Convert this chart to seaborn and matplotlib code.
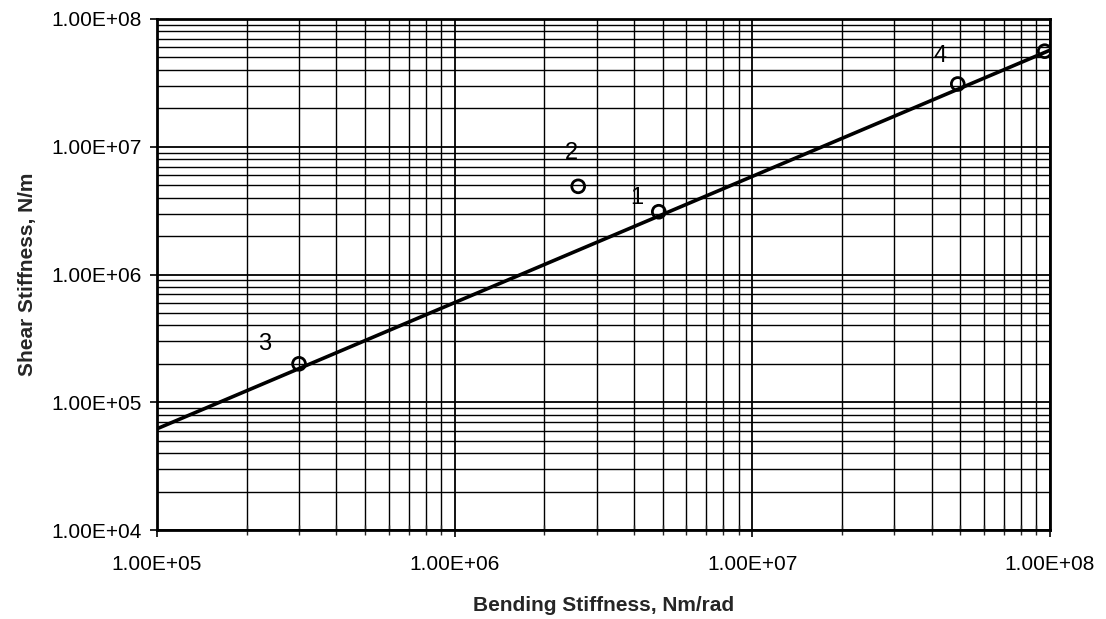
import numpy as np
import pandas as pd
import seaborn as sns
import matplotlib
matplotlib.use("Agg")
import matplotlib.pyplot as plt
from matplotlib.ticker import LogLocator, FixedLocator, FixedFormatter, NullFormatter

# Data
line_x = [1.0e5, 1.0e8]
line_y = [6.2e4, 5.7e7]
point_x = [4.85e6, 2.6e6, 3.0e5, 4.9e7, 9.6e7]
point_y = [3.1e6, 4.9e6, 2.0e5, 3.1e7, 5.6e7]
point_labels = ["1", "2", "3", "4", ""]
label_offsets = [(-16, 10), (-5, 24), (-25, 14), (-13, 20), (0, 0)]
x_ticks = [1e5, 1e6, 1e7, 1e8]
x_ticklabels = ["1.00E+05", "1.00E+06", "1.00E+07", "1.00E+08"]
y_ticks = [1e4, 1e5, 1e6, 1e7, 1e8]
y_ticklabels = ["1.00E+04", "1.00E+05", "1.00E+06", "1.00E+07", "1.00E+08"]

sns.set_style("white")
plt.rcParams['font.family'] = ['Liberation Sans', 'DejaVu Sans']

fig = plt.figure(figsize=(11.06, 6.19), dpi=100)
ax = fig.add_axes([157/1106, 1 - 530/619, (1050-157)/1106, (530-19)/619])

ax.set_xscale('log')
ax.set_yscale('log')
ax.set_xlim(1e5, 1e8)
ax.set_ylim(1e4, 1e8)

line_df = pd.DataFrame({"x": line_x, "y": line_y})
sns.lineplot(data=line_df, x="x", y="y", ax=ax, color="black", linewidth=2.6, zorder=5)

pts = pd.DataFrame({"x": point_x, "y": point_y})
sns.scatterplot(data=pts, x="x", y="y", ax=ax, marker="o", s=85,
                facecolor="none", edgecolor="black", linewidth=2.0, zorder=6)

for x, y, lab, off in zip(point_x, point_y, point_labels, label_offsets):
    if lab:
        ax.annotate(lab, (x, y), xytext=off, textcoords="offset points",
                    ha="center", va="center", fontsize=17, color="black")

ax.xaxis.set_major_locator(FixedLocator(x_ticks))
ax.xaxis.set_major_formatter(FixedFormatter(x_ticklabels))
ax.yaxis.set_major_locator(FixedLocator(y_ticks))
ax.yaxis.set_major_formatter(FixedFormatter(y_ticklabels))
ax.xaxis.set_minor_locator(LogLocator(base=10, subs=np.arange(2, 10), numticks=20))
ax.yaxis.set_minor_locator(LogLocator(base=10, subs=np.arange(2, 10), numticks=20))
ax.xaxis.set_minor_formatter(NullFormatter())
ax.yaxis.set_minor_formatter(NullFormatter())

ax.grid(True, which="major", color="black", linewidth=1.3)
ax.grid(True, which="minor", color="black", linewidth=1.0)
ax.set_axisbelow(True)

for s in ax.spines.values():
    s.set_color("black")
    s.set_linewidth(2.0)

ax.tick_params(axis="both", which="major", direction="out", length=5, width=1.2,
               labelsize=15, colors="black", pad=6, left=True, bottom=True)
ax.tick_params(axis="x", which="major", pad=13)
ax.tick_params(axis="x", which="minor", direction="inout", length=7, width=1.0, bottom=True)
ax.tick_params(axis="y", which="minor", length=0)

ax.set_xlabel("Bending Stiffness, Nm/rad", fontsize=15, fontweight="bold", labelpad=16)
ax.set_ylabel("Shear Stiffness, N/m", fontsize=15, fontweight="bold", labelpad=10)

fig.savefig("out.png", dpi=100, facecolor="white")
